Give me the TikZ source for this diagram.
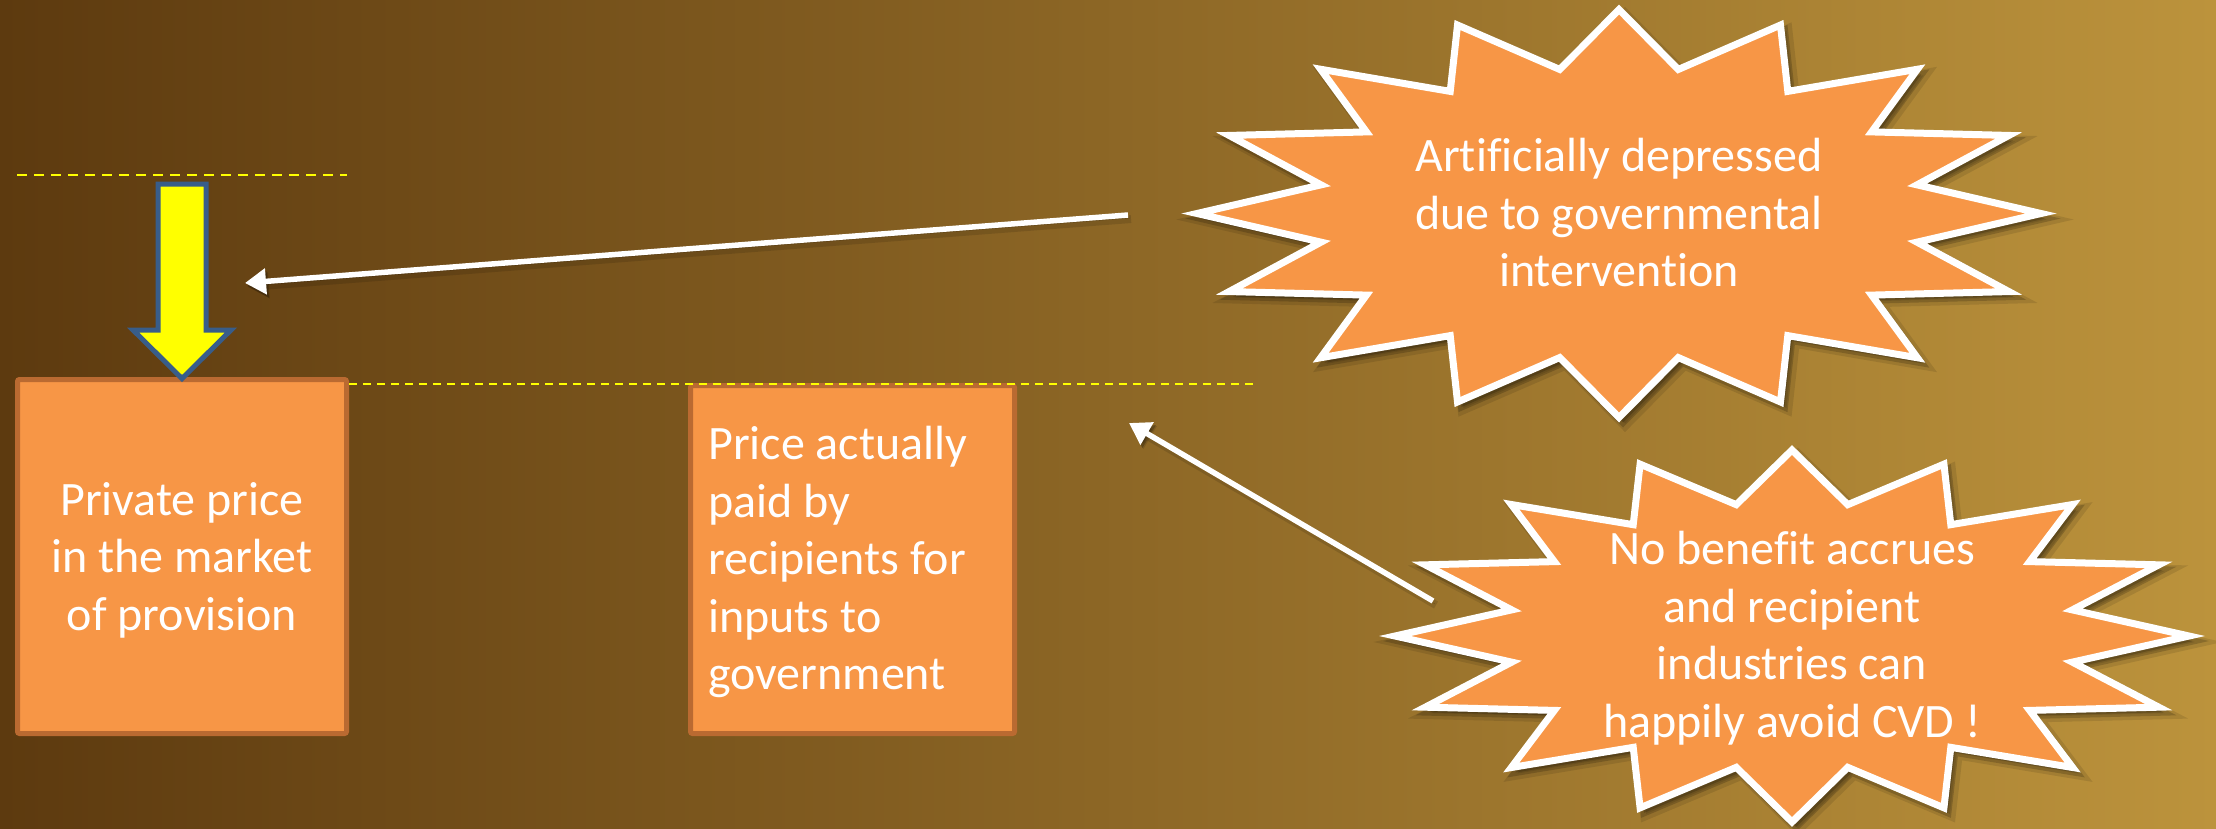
\documentclass[tikz,border=0pt]{standalone}
\usepackage{fontspec}
\setmainfont{Carlito}[Ligatures=CommonOff]
\usetikzlibrary{arrows.meta}

\definecolor{bgleft}{RGB}{93,58,15}
\definecolor{bgright}{RGB}{188,147,60}
\definecolor{orangefill}{RGB}{247,150,70}
\definecolor{orangeline}{RGB}{186,106,49}
\definecolor{outlineblue}{RGB}{56,93,138}
\definecolor{guideyellow}{RGB}{255,255,0}

\tikzset{
  slidetext/.style={text=white, font=\fontsize{48pt}{57.5pt}\selectfont, inner sep=0pt},
  pricebox/.style={draw=orangeline, fill=orangefill, line width=5pt, rounded corners=2pt, inner sep=0pt},
  burstline/.style={draw=white, fill=orangefill, line width=7pt, line join=miter},
  guide/.style={draw=guideyellow},
  pointer/.style={draw=white, line width=5.5pt, -{Triangle[length=21pt,width=25pt]},
    preaction={draw=black, opacity=0.12, line width=8pt, transform canvas={xshift=3pt,yshift=-4pt}},
    preaction={draw=black, opacity=0.22, transform canvas={xshift=2pt,yshift=-3pt}}},
  bigarrow/.style={draw=outlineblue, fill=guideyellow, line width=5pt, line join=miter},
}

% 16-point starburst on an ellipse: centre (#1,#2), radii #3 and #4, with a soft shadow
\newcommand\drawburst[4]{%
  \filldraw[black, opacity=0.10, line width=12pt]
    plot[samples at={0,...,31}, variable=\k]
      ({#1+6+#3*(1-0.28*mod(\k,2))*cos(90+11.25*\k)},
       {#2+6-#4*(1-0.28*mod(\k,2))*sin(90+11.25*\k)}) -- cycle;
  \filldraw[black, opacity=0.18, line width=7pt]
    plot[samples at={0,...,31}, variable=\k]
      ({#1+4+#3*(1-0.28*mod(\k,2))*cos(90+11.25*\k)},
       {#2+5-#4*(1-0.28*mod(\k,2))*sin(90+11.25*\k)}) -- cycle;
  \path[burstline]
    plot[samples at={0,...,31}, variable=\k]
      ({#1+#3*(1-0.28*mod(\k,2))*cos(90+11.25*\k)},
       {#2-#4*(1-0.28*mod(\k,2))*sin(90+11.25*\k)}) -- cycle;
}

\begin{document}
\begin{tikzpicture}[x=1pt, y=-1pt]
\useasboundingbox (0,0) rectangle (2216,828);
\shade[left color=bgleft, right color=bgright] (0,0) rectangle (2216,828);

% the two price boxes
\node[pricebox, minimum width=329pt, minimum height=354pt] (box1) at (182,556.5) {};
\node[pricebox, minimum width=324pt, minimum height=348pt] (box2) at (852.5,559.5) {};
\node[slidetext, align=center] (box1text) at (182,561)
  {\strut Private price\\in the market\\of provision\strut};
\node[slidetext, align=left, anchor=west] (box2text) at (708,563)
  {\strut Price actually\\paid by\\recipients for\\inputs to\\government\strut};

% price levels
\draw[guide, line width=2.5pt, dash pattern=on 10pt off 7pt] (17,175) -- (347,175);
\draw[guide, line width=2pt, dash pattern=on 8pt off 6pt] (349,384) -- (1257,384);

% downward block arrow onto the first box
\path[bigarrow] (158,184) -- (206,184) -- (206,330) -- (231,330) -- (182,378.5)
  -- (133,330) -- (158,330) -- cycle;

% starbursts
\drawburst{1619}{213.5}{422}{204}
\drawburst{1792}{636}{397}{186}
\node[slidetext, align=center] (burst1text) at (1619,217.5)
  {\strut Artificially depressed\\due to governmental\\intervention\strut};
\node[slidetext, align=center] (burst2text) at (1792,639.5)
  {\strut No benefit accrues\\and recipient\\industries can\\happily avoid CVD !\strut};

% pointers
\coordinate (p1from) at (1128,215);
\coordinate (p1to) at (245,283);
\coordinate (p2from) at (1433,601);
\coordinate (p2to) at (1129,423);
\draw[pointer] (p1from) -- (p1to);
\draw[pointer] (p2from) -- (p2to);
\end{tikzpicture}
\end{document}
